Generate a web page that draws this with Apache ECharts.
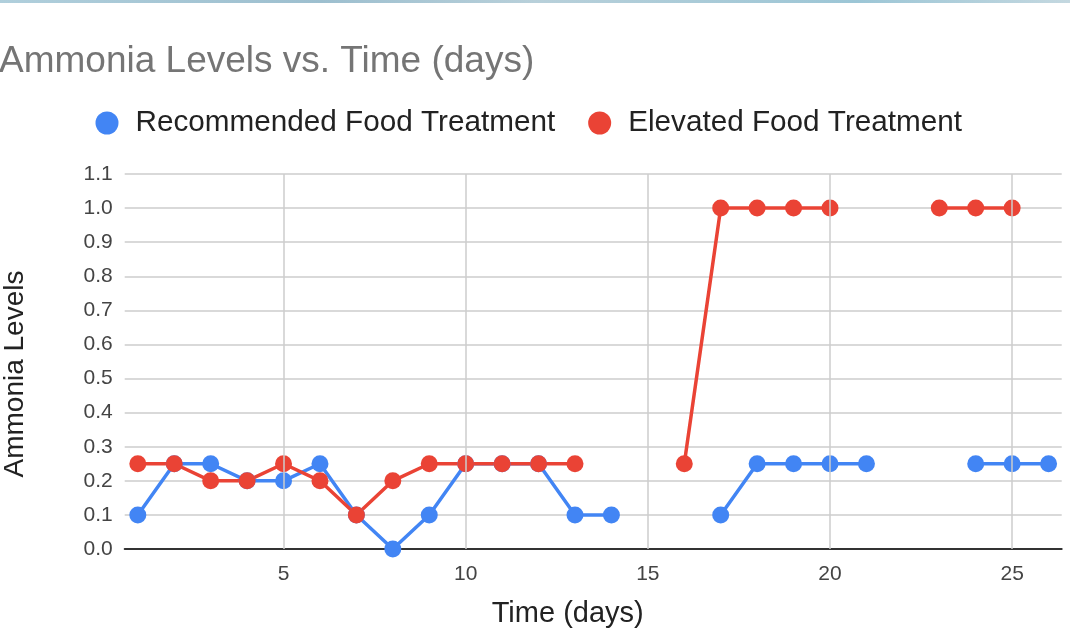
<!DOCTYPE html>
<html>
<head>
<meta charset="utf-8">
<script src="https://cdn.jsdelivr.net/npm/echarts@6/dist/echarts.min.js"></script>
<style>
html,body{margin:0;padding:0;background:#fff;}
#chart{width:1070px;height:632px;}
</style>
</head>
<body>
<div id="chart"></div>
<script>
// ---- data ----
const days = [1,2,3,4,5,6,7,8,9,10,11,12,13,14,15,16,17,18,19,20,21,22,23,24,25,26];
const recommended = [0.1,0.25,0.25,0.2,0.2,0.25,0.1,0.0,0.1,0.25,0.25,0.25,0.1,0.1,null,null,0.1,0.25,0.25,0.25,0.25,null,null,0.25,0.25,0.25];
const elevated = [0.25,0.25,0.2,0.2,0.25,0.2,0.1,0.2,0.25,0.25,0.25,0.25,0.25,null,null,0.25,1.0,1.0,1.0,1.0,null,null,1.0,1.0,1.0,null];
const xTicks = [5,10,15,20,25];
const seriesNames = ['Recommended Food Treatment','Elevated Food Treatment'];
const titleText = 'Ammonia Levels vs. Time (days)';
const xName = 'Time (days)';
const yName = 'Ammonia Levels';

const FONT = '"Liberation Sans", Arial, sans-serif';
function pairs(vals){ return days.map((d,i)=>[d, vals[i]==null ? '-' : vals[i]]); }

const chart = echarts.init(document.getElementById('chart'));
chart.setOption({
  backgroundColor:'#fff',
  animation:false,
  textStyle:{fontFamily:FONT},
  graphic:[{
    type:'rect', left:0, top:0, shape:{width:1070, height:3},
    style:{fill:new echarts.graphic.LinearGradient(0,0,1,0,[
      {offset:0,color:'#b0cfdc'},{offset:0.3,color:'#9dbfcf'},{offset:0.5,color:'#b8d0da'},
      {offset:0.8,color:'#9cc6d6'},{offset:1,color:'#c4d8e0'}])}
  }],
  title:{
    text:titleText, left:-6, top:38,
    textStyle:{fontFamily:FONT, fontSize:37, fontWeight:'normal', color:'#757575'}
  },
  legend:{
    data:seriesNames, left:90.5, top:103,
    icon:'circle', itemWidth:47, itemHeight:23, itemGap:33,
    textStyle:{fontFamily:FONT, fontSize:29.7, color:'#222'}
  },
  grid:{left:124.7, right:8.3, top:174, bottom:83, containLabel:false, outerBoundsMode:'none'},
  xAxis:{
    type:'value', min:0.64, max:26.36,
    name:xName, nameLocation:'middle', nameGap:50,
    nameTextStyle:{fontFamily:FONT, fontSize:29, color:'#222', padding:[0,51,0,0]},
    axisLine:{show:true, lineStyle:{color:'#333', width:2}},
    axisTick:{show:false},
    splitLine:{show:false},
    axisLabel:{showMinLabel:false, showMaxLabel:false, fontFamily:FONT, fontSize:21, color:'#444', margin:15}
  },
  yAxis:{
    type:'value', min:0, max:1.1, interval:0.1,
    name:yName, nameLocation:'middle', nameGap:95,
    nameTextStyle:{fontFamily:FONT, fontSize:28, color:'#222', padding:[0,25,0,0]},
    axisLine:{show:false}, axisTick:{show:false},
    splitLine:{show:true, lineStyle:{color:'#cccccc', width:1.5}},
    axisLabel:{fontFamily:FONT, fontSize:21, color:'#444', margin:12, formatter:v=>v.toFixed(1)}
  },
  series:[
    {
      name:'_grid', type:'line', data:[], silent:true, z:1,
      markLine:{silent:true, symbol:'none', label:{show:false},
        lineStyle:{color:'#cccccc', width:1.5, type:'solid'},
        data:xTicks.map(v=>({xAxis:v}))}
    },
    {
      name:seriesNames[0], type:'line', data:pairs(recommended), connectNulls:false,
      symbol:'circle', symbolSize:17, showSymbol:true,
      lineStyle:{color:'#4285F4', width:3.5}, itemStyle:{color:'#4285F4'}
    },
    {
      name:seriesNames[1], type:'line', data:pairs(elevated), connectNulls:false,
      symbol:'circle', symbolSize:17, showSymbol:true,
      lineStyle:{color:'#EA4335', width:3.5}, itemStyle:{color:'#EA4335'}
    }
  ]
});
</script>
</body>
</html>
